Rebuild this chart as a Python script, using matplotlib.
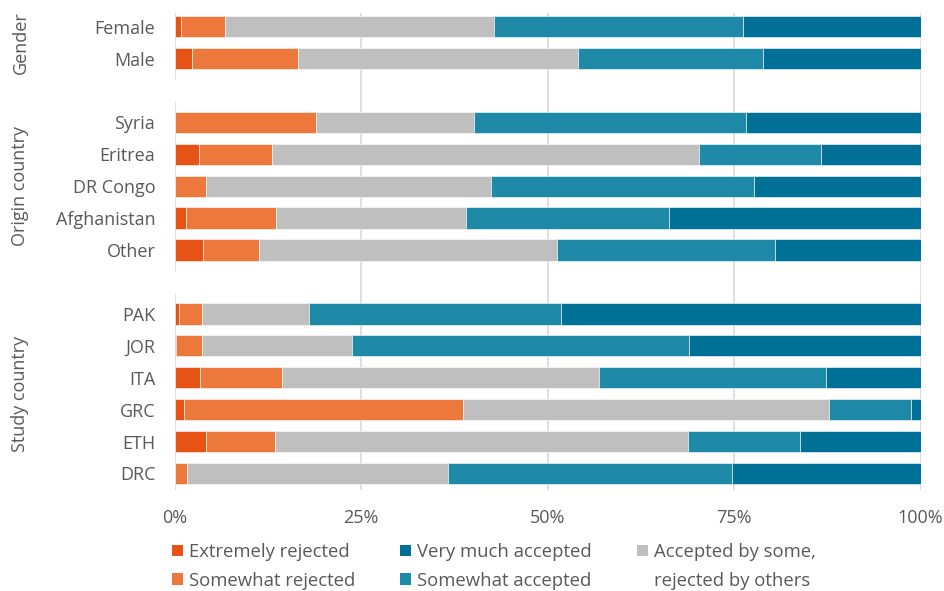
import matplotlib
matplotlib.use("Agg")
import matplotlib.pyplot as plt
from matplotlib.patches import Patch
import numpy as np

plt.rcParams['font.family'] = ['Open Sans', 'DejaVu Sans']

# ---- data ----
categories = ["Female", "Male", "",
              "Syria", "Eritrea", "DR Congo", "Afghanistan", "Other", "",
              "PAK", "JOR", "ITA", "GRC", "ETH", "DRC"]
groups = ["Gender", "Origin country", "Study country"]
series_names = ["Extremely rejected", "Somewhat rejected",
                "Accepted by some, rejected by others",
                "Somewhat accepted", "Very much accepted"]

extremely_rejected = [0.8, 2.3, 0, 0.0, 3.3, 0.0, 1.5, 3.8, 0, 0.6, 0.2, 3.4, 1.2, 4.2, 0.0]
somewhat_rejected  = [5.9, 14.2, 0, 19.0, 9.8, 4.2, 12.1, 7.5, 0, 3.1, 3.4, 11.0, 37.4, 9.2, 1.6]
accepted_by_some   = [36.1, 37.6, 0, 21.1, 57.2, 38.2, 25.4, 39.9, 0, 14.3, 20.2, 42.5, 49.1, 55.4, 35.0]
somewhat_accepted  = [33.4, 24.7, 0, 36.5, 16.3, 35.2, 27.2, 29.3, 0, 33.8, 45.2, 30.4, 11.0, 15.0, 38.1]
very_much_accepted = [23.8, 21.2, 0, 23.4, 13.4, 22.4, 33.8, 19.5, 0, 48.2, 31.0, 12.7, 1.3, 16.2, 25.3]

x_ticks = [0, 25, 50, 75, 100]
x_tick_labels = ["0%", "25%", "50%", "75%", "100%"]

colors = ["#E65314", "#EC783C", "#BFBFBF", "#1F8AA7", "#007196"]
text_color = "#595959"

fig = plt.figure(figsize=(9.44, 5.91), dpi=100)
ax = fig.add_axes([174.7/944, 1-490/591, (920.7-174.7)/944, (490-13)/591])

series = [extremely_rejected, somewhat_rejected, accepted_by_some,
          somewhat_accepted, very_much_accepted]
y = np.arange(len(categories))
left = np.zeros(len(categories))
for vals, col, name in zip(series, colors, series_names):
    v = np.array(vals, dtype=float)
    ax.barh(y, v, left=left, height=0.67, color=col, edgecolor="white",
            linewidth=0.4, zorder=3, label=name)
    left += v

ax.set_xlim(0, 100)
ax.set_ylim(14.52, -0.43)
ax.set_xticks(x_ticks)
ax.set_xticklabels(x_tick_labels)
ax.set_yticks(y)
ax.set_yticklabels(categories)
ax.tick_params(axis='both', length=0, labelsize=13, colors=text_color)
ax.tick_params(axis='y', pad=14)
ax.tick_params(axis='x', pad=14)
ax.grid(axis='x', color="#D9D9D9", linewidth=1.2, zorder=0)
ax.set_axisbelow(True)
for s in ax.spines.values():
    s.set_visible(False)

# group labels
group_centers = [0.5, 5.0, 11.5]
for g, c in zip(groups, group_centers):
    ax.annotate(g, xy=(0, c), xycoords=('axes fraction', 'data'),
                xytext=(20.5/944, 0), textcoords=('figure fraction', 'offset points'),
                rotation=90, ha='center', va='center', fontsize=13, color=text_color)

# legend
handles = [Patch(facecolor=colors[0]), Patch(facecolor=colors[1]),
           Patch(facecolor=colors[4]), Patch(facecolor=colors[3]),
           Patch(facecolor=colors[2]), Patch(facecolor='none', edgecolor='none')]
labels = ["Extremely rejected", "Somewhat rejected",
          "Very much accepted", "Somewhat accepted",
          "Accepted by some,", "rejected by others"]
fig.legend(handles, labels, ncol=3, loc='upper left',
           bbox_to_anchor=(172/944, 1-543/591), frameon=False,
           fontsize=13.3, labelcolor=text_color, handlelength=0.6, handleheight=0.6,
           handletextpad=0.3, columnspacing=2.45, labelspacing=0.58, borderpad=0,
           borderaxespad=0)

fig.savefig("out.png", dpi=100)
